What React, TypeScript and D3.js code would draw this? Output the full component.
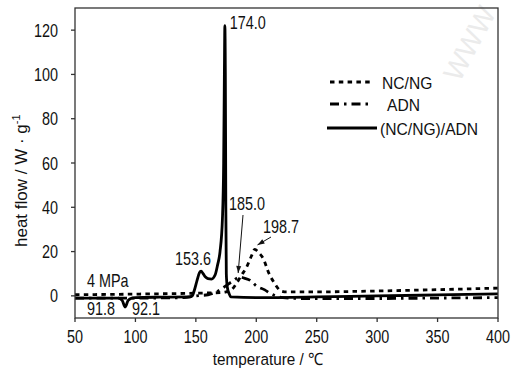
import { useEffect, useRef } from "react"
import * as d3 from "d3"

// NC/NG (dotted)
const ncngTemp = [50, 100, 150, 170, 175, 180, 184, 188, 192, 196, 198.7, 202, 205.6, 210.6, 214.7, 220.5, 225, 250, 300, 350, 400]
const ncngFlow = [0.5, 0.8, 1.2, 1.5, 1.8, 3, 6, 9.5, 13, 18, 21, 19.5, 17, 10, 6, 2.2, 1.8, 1.8, 2.2, 2.8, 3.5]

// ADN (dash-dot)
const adnTemp = [50, 100, 140, 150, 160, 165, 170, 176, 180, 186.6, 190, 195, 200, 207, 211, 216, 222, 240, 300, 350, 400]
const adnFlow = [-1, -1, -0.8, 0, 0.5, 1.3, 2.7, 5, 6.5, 8.5, 8, 7, 4.5, 2.7, 1.3, 0, -0.8, -1.2, -1.2, -1, -0.8]

// (NC/NG)/ADN (solid)
const mixTemp = [50, 86, 89, 91.5, 94, 97, 100, 120, 145, 147, 149, 151, 153, 154.3, 156, 158, 160, 163, 166, 168, 170, 172, 173, 173.6, 174, 174.4, 174.8, 175.2, 176, 177.5, 179, 200, 250, 300, 350, 400]
const mixFlow = [-1, -1, -2, -5, -2, -1, -0.8, -0.6, -0.5, 0, 3, 7, 10.5, 11.2, 10, 8.5, 7.8, 7.6, 9.5, 14, 20, 35, 60, 100, 122, 100, 40, 10, 4, 1, -0.5, -0.8, -0.5, 0, 0.4, 0.9]

const xTicks = [50, 100, 150, 200, 250, 300, 350, 400]
const yTicks = [0, 20, 40, 60, 80, 100, 120]

const legendNames = ["NC/NG", "ADN", "(NC/NG)/ADN"]
const dashes = ["4.5,4.3", "9,5,2.5,5", null]

const FONT = "'Liberation Sans', Arial, sans-serif"

const App = () => {
  const svgRef = useRef<SVGSVGElement>(null)

  useEffect(() => {
    const svg = d3.select(svgRef.current)
    svg.selectAll("*").remove()

    const margin = { top: 8, right: 14, bottom: 53, left: 75 }
    const width = 512 - margin.left - margin.right
    const height = 371 - margin.top - margin.bottom

    const x = d3.scaleLinear().domain([50, 400]).range([0, width])
    const y = d3.scaleLinear().domain([-10, 130]).range([height, 0])

    // condensed text helper (no narrow font installed)
    const txt = (parent: any, tx: number, ty: number, s: string, size = 18, sx = 0.8, anchor = "start", rot = 0) =>
      parent.append("text")
        .attr("transform", `translate(${tx},${ty}) rotate(${rot}) scale(${sx},1)`)
        .attr("text-anchor", anchor)
        .style("font-family", FONT)
        .style("font-size", `${size}px`)
        .style("fill", "#111")
        .text(s)

    // watermark
    svg.append("text")
      .attr("transform", "translate(478,48) rotate(-62)")
      .attr("text-anchor", "middle")
      .style("font-family", FONT)
      .style("font-size", "28px")
      .style("fill", "#ebebeb")
      .text("WWW")

    const g = svg.append("g").attr("transform", `translate(${margin.left},${margin.top})`)

    const line = d3.line<[number, number]>()
      .x((d) => x(d[0]))
      .y((d) => y(d[1]))
      .curve(d3.curveMonotoneX)

    const series = [
      d3.zip(ncngTemp, ncngFlow),
      d3.zip(adnTemp, adnFlow),
      d3.zip(mixTemp, mixFlow),
    ]

    series.forEach((s, i) => {
      g.append("path")
        .datum(s as [number, number][])
        .attr("d", line)
        .attr("fill", "none")
        .attr("stroke", "#000")
        .attr("stroke-width", 2.8)
        .attr("stroke-dasharray", dashes[i])
    })

    // frame
    g.append("rect")
      .attr("width", width)
      .attr("height", height)
      .attr("fill", "none")
      .attr("stroke", "#333")
      .attr("stroke-width", 1.3)

    // ticks
    xTicks.forEach((t) => {
      g.append("line")
        .attr("x1", x(t)).attr("x2", x(t))
        .attr("y1", height).attr("y2", height + 4)
        .attr("stroke", "#333").attr("stroke-width", 1.3)
      txt(g, x(t), 343 - margin.top, String(t), 18, 0.8, "middle")
    })
    yTicks.forEach((t) => {
      g.append("line")
        .attr("x1", -4).attr("x2", 0)
        .attr("y1", y(t)).attr("y2", y(t))
        .attr("stroke", "#333").attr("stroke-width", 1.3)
      txt(g, 58 - margin.left, y(t) + 6.5, String(t), 18, 0.8, "end")
    })

    // axis labels
    txt(svg, 268, 365, "temperature / ℃", 17, 0.9, "middle")
    const yl = txt(svg, 27, 247, "heat flow / W · g", 17, 1, "start", -90)
    yl.append("tspan").attr("dy", -7).style("font-size", "11px").text("-1")

    // annotations (pixel offsets from data points)
    txt(g, x(174) + 5, y(122) + 3, "174.0")
    txt(g, x(154.3) - 26, y(11.2) - 6, "153.6")
    txt(svg, 87, 287, "4 MPa")
    txt(svg, 87, 315, "91.8")
    txt(svg, 132, 315, "92.1")

    const arrows = [
      { text: "185.0", lx: 229, ly: 210, fx: 243, fy: 215, px: 185, py: 10.3 },
      { text: "198.7", lx: 263, ly: 233, fx: 271, fy: 237, px: 201, py: 23 },
    ]
    arrows.forEach((a) => {
      txt(svg, a.lx, a.ly, a.text)
      const x1 = a.fx - margin.left, y1 = a.fy - margin.top, x2 = x(a.px), y2 = y(a.py)
      g.append("line")
        .attr("x1", x1).attr("y1", y1).attr("x2", x2).attr("y2", y2)
        .attr("stroke", "#111").attr("stroke-width", 1)
      const ang = Math.atan2(y2 - y1, x2 - x1)
      const L = 7, W = 2.5
      const bx = x2 - L * Math.cos(ang), by = y2 - L * Math.sin(ang)
      g.append("path")
        .attr("d", `M${x2},${y2}L${bx + W * Math.sin(ang)},${by - W * Math.cos(ang)}L${bx - W * Math.sin(ang)},${by + W * Math.cos(ang)}Z`)
        .attr("fill", "#111")
    })

    // legend
    const legendY = [82, 104, 128]
    const legendX1 = [330, 330, 327]
    const legendX2 = [373, 373, 377]
    const legendTx = [382, 387, 380]
    legendNames.forEach((name, i) => {
      svg.append("line")
        .attr("x1", legendX1[i]).attr("x2", legendX2[i])
        .attr("y1", legendY[i]).attr("y2", legendY[i])
        .attr("stroke", "#000")
        .attr("stroke-width", 2.8)
        .attr("stroke-dasharray", dashes[i])
      txt(svg, legendTx[i], legendY[i] + 7, name, 17, 0.92)
    })
  }, [])

  return (
    <svg
      ref={svgRef}
      width={512}
      height={371}
      style={{ position: "absolute", left: 0, top: 0, background: "#fff" }}
    ></svg>
  )
}

export default App
